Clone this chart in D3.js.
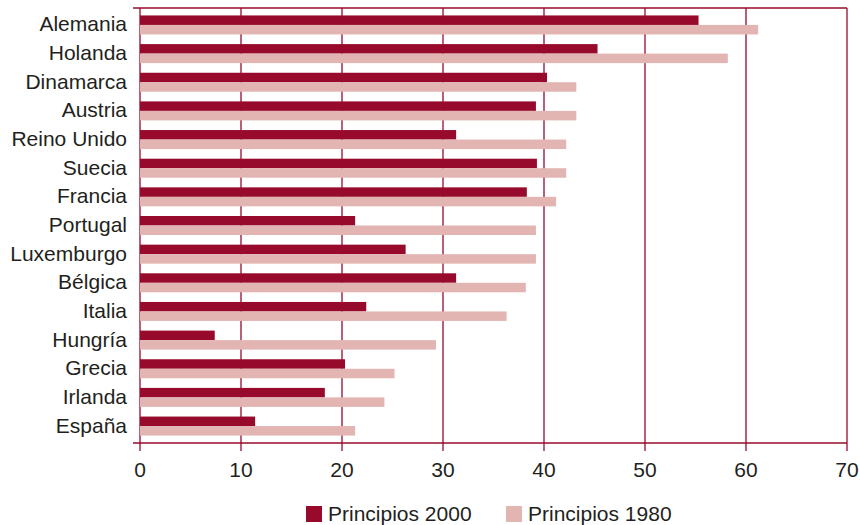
<!DOCTYPE html>
<html>
<head>
<meta charset="utf-8">
<script src="https://cdn.jsdelivr.net/npm/d3@7"></script>
<style>
  body { margin: 0; background: #fff; }
  text { font-family: "Liberation Sans", Arial, sans-serif; fill: #231f20; }
</style>
</head>
<body>
<div id="chart"></div>
<script>
// data
const countries = ["Alemania", "Holanda", "Dinamarca", "Austria", "Reino Unido", "Suecia",
  "Francia", "Portugal", "Luxemburgo", "Bélgica", "Italia", "Hungría", "Grecia", "Irlanda", "España"];
const values2000 = [55.3, 45.3, 40.3, 39.2, 31.3, 39.3, 38.3, 21.3, 26.3, 31.3, 22.4, 7.4, 20.3, 18.3, 11.4];
const values1980 = [61.2, 58.2, 43.2, 43.2, 42.2, 42.2, 41.2, 39.2, 39.2, 38.2, 36.3, 29.3, 25.2, 24.2, 21.3];
const seriesNames = ["Principios 2000", "Principios 1980"];
const xTicks = [0, 10, 20, 30, 40, 50, 60, 70];

const dark = "#970a2c";
const light = "#e2b5b3";

const width = 860, height = 525;
const plotLeft = 140, plotRight = 847, plotTop = 8, plotBottom = 443;

const svg = d3.select("#chart").append("svg")
  .attr("width", width)
  .attr("height", height);

const x = d3.scaleLinear().domain([0, 70]).range([plotLeft, plotRight]);
const y = d3.scaleBand().domain(countries).range([plotTop, plotBottom])
  .paddingInner(0.337).paddingOuter(0.26);
const ySub = d3.scaleBand().domain(seriesNames).range([0, y.bandwidth()]);

// vertical grid lines, running down past the axis as ticks
svg.append("g")
  .selectAll("line")
  .data(xTicks)
  .join("line")
  .attr("x1", d => x(d)).attr("x2", d => x(d))
  .attr("y1", plotTop).attr("y2", plotBottom + 8)
  .attr("stroke", dark)
  .attr("stroke-width", 1.3);

// bars
const rows = svg.append("g")
  .selectAll("g")
  .data(countries.map((c, i) => ({ c: c, v: [values2000[i], values1980[i]] })))
  .join("g")
  .attr("transform", d => "translate(0," + y(d.c) + ")");

rows.selectAll("rect")
  .data(d => d.v.map((v, j) => ({ s: seriesNames[j], v: v })))
  .join("rect")
  .attr("x", x(0))
  .attr("y", d => ySub(d.s))
  .attr("width", d => x(d.v) - x(0))
  .attr("height", ySub.bandwidth())
  .attr("fill", (d, j) => j === 0 ? dark : light);

// frame lines: top and bottom axis
svg.append("line")
  .attr("x1", plotLeft - 7).attr("x2", plotRight)
  .attr("y1", plotTop).attr("y2", plotTop)
  .attr("stroke", dark).attr("stroke-width", 1.3);
svg.append("line")
  .attr("x1", plotLeft - 7).attr("x2", plotRight)
  .attr("y1", plotBottom).attr("y2", plotBottom)
  .attr("stroke", dark).attr("stroke-width", 1.3);

// x tick labels
svg.append("g")
  .selectAll("text")
  .data(xTicks)
  .join("text")
  .attr("x", d => x(d))
  .attr("y", 477)
  .attr("text-anchor", "middle")
  .style("font-size", "21px")
  .text(d => d);

// category labels
svg.append("g")
  .selectAll("text")
  .data(countries)
  .join("text")
  .attr("x", 127)
  .attr("y", d => y(d) + y.bandwidth() / 2 + 6.5)
  .attr("text-anchor", "end")
  .style("font-size", "21px")
  .text(d => d);

// legend
const legendX = [306, 506];
const legend = svg.append("g")
  .selectAll("g")
  .data(seriesNames)
  .join("g")
  .attr("transform", (d, i) => "translate(" + legendX[i] + ",506)");
legend.append("rect")
  .attr("width", 16).attr("height", 16)
  .attr("fill", (d, i) => i === 0 ? dark : light);
legend.append("text")
  .attr("x", 22).attr("y", 14.5)
  .style("font-size", "21px")
  .text(d => d);
</script>
</body>
</html>
